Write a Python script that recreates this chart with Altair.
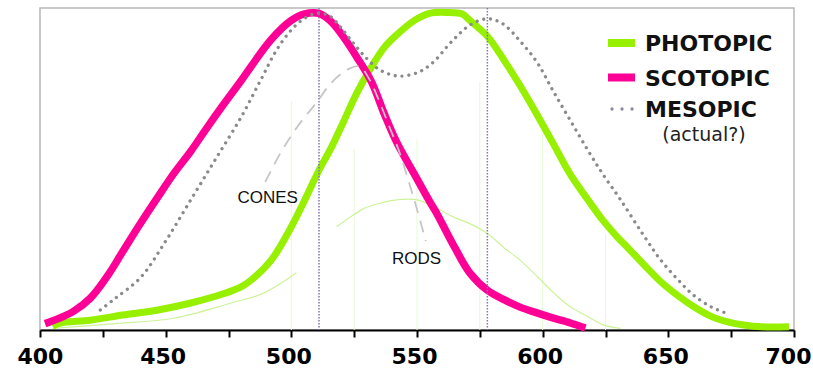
import altair as alt
import pandas as pd

# ---------------- data ----------------
PHOT_NM = [405, 408, 420, 433, 447, 460, 473, 480, 484, 492, 500, 506, 511, 516, 521, 526,
           532, 537, 542, 549, 555, 562, 568, 571, 578, 585, 591, 598, 604, 611, 618, 624,
           630, 634, 640, 647, 654, 660, 667, 674, 680, 687, 698]
PHOT_V = [0.012, 0.022, 0.031, 0.047, 0.063, 0.085, 0.114, 0.136, 0.157, 0.22, 0.325, 0.42,
          0.503, 0.576, 0.66, 0.745, 0.83, 0.89, 0.93, 0.975, 0.997, 1.0, 0.995, 0.975, 0.925,
          0.845, 0.77, 0.675, 0.59, 0.49, 0.41, 0.345, 0.29, 0.258, 0.208, 0.152, 0.107, 0.074,
          0.043, 0.025, 0.016, 0.01, 0.01]

SCOT_NM = [402, 407, 413, 420, 427, 433, 440, 447, 453, 460, 466, 473, 480, 484, 492, 500,
           505, 511, 516, 521, 526, 532, 537, 542, 549, 555, 558, 565, 571, 578, 585, 591,
           598, 604, 611, 617]
SCOT_V = [0.02, 0.035, 0.057, 0.10, 0.172, 0.248, 0.336, 0.42, 0.49, 0.563, 0.632, 0.71,
          0.785, 0.83, 0.915, 0.975, 0.995, 0.997, 0.97, 0.92, 0.86, 0.78, 0.68, 0.59, 0.49,
          0.405, 0.365, 0.26, 0.18, 0.125, 0.094, 0.072, 0.053, 0.038, 0.022, 0.006]

MESO_NM = [424, 430, 440, 450, 460, 470, 480, 488, 494, 500, 505, 510, 515, 520, 525, 530,
           535, 542, 550, 556, 564, 571, 578, 584, 591, 598, 604, 611, 618, 624, 631, 640,
           647, 654, 660, 667, 673]
MESO_V = [0.063, 0.10, 0.165, 0.28, 0.41, 0.54, 0.67, 0.79, 0.88, 0.945, 0.98, 0.997, 0.99,
          0.95, 0.90, 0.855, 0.82, 0.80, 0.81, 0.84, 0.91, 0.96, 0.98, 0.965, 0.91, 0.84, 0.755,
          0.66, 0.566, 0.49, 0.41, 0.30, 0.22, 0.157, 0.11, 0.073, 0.053]

CONE_NM = [489.6, 495.6, 502.4, 510.4, 515.5, 522.3, 527, 531, 535, 539, 543, 547, 550, 553.5]
CONE_V = [0.466, 0.556, 0.64, 0.72, 0.775, 0.82, 0.83, 0.79, 0.72, 0.64, 0.56, 0.46, 0.38, 0.28]

ROD_NM = [405, 430, 453, 476, 489, 502, 518, 523.5, 529, 535.5, 542, 550, 558, 564.5, 571,
          578, 584.5, 591, 598, 604.5, 611, 618, 624, 631]
ROD_V = [0.005, 0.02, 0.037, 0.085, 0.116, 0.18, 0.325, 0.356, 0.383, 0.40, 0.41, 0.41,
         0.383, 0.356, 0.335, 0.304, 0.26, 0.22, 0.167, 0.116, 0.073, 0.042, 0.016, 0.005]

GRID_NM = [500, 525, 550, 575, 600, 625]
GRID_TOP = [0.72, 0.57, 0.6, 0.78, 0.62, 0.3]

MARK_NM = [511, 578]

TICKS = list(range(400, 701, 25))

NOTES = ["CONES", "RODS"]
NOTE_NM = [490.6, 549.8]
NOTE_V = [0.416, 0.224]

LEGEND = ["PHOTOPIC", "SCOTOPIC", "MESOPIC"]
LEGEND_SUB = "(actual?)"

GREEN = "#96f000"
PINK = "#ff0096"

# ---------------- scales ----------------
XS = alt.Scale(domain=[400, 700], nice=False, zero=False)
YS = alt.Scale(domain=[0, 1.014], nice=False, zero=False)

x_axis = alt.Axis(
    values=TICKS, format="d",
    labelExpr="datum.value % 50 == 0 ? datum.label : ''",
    labelFont="DejaVu Sans", labelFontWeight="bold", labelFontSize=22, labelColor="#000",
    domainColor="#000", domainWidth=2, tickColor="#000", tickWidth=2, tickSize=7,
    labelPadding=9, grid=False, title=None, labelFlush=True, labelFlushOffset=20,
    labelOverlap=False, labelOffset=-3,
)
X = alt.X("nm:Q", scale=XS, axis=x_axis)


def df(nm, v):
    return pd.DataFrame({"nm": nm, "v": v})


grid = alt.Chart(pd.DataFrame({"nm": GRID_NM, "top": GRID_TOP, "zero": [0] * len(GRID_NM)})).mark_rule(
    color="#e9f8d4", strokeWidth=1
).encode(
    x=X,
    y=alt.Y("top:Q", scale=YS, axis=None),
    y2="zero:Q",
)

rod_df = df(ROD_NM, ROD_V)
rod_df["seg"] = (rod_df["nm"] > 505).astype(int)
rods = alt.Chart(rod_df).mark_line(
    color="#cdf39a", strokeWidth=1.2, interpolate="catmull-rom"
).encode(
    x=X,
    y=alt.Y("v:Q", scale=YS, axis=None),
    detail="seg:N",
)


def curve(nm, v, **kw):
    return alt.Chart(df(nm, v)).mark_line(interpolate="catmull-rom", **kw).encode(
        x=X,
        y=alt.Y("v:Q", scale=YS, axis=None),
    )


phot = curve(PHOT_NM, PHOT_V, color=GREEN, strokeWidth=7)
scot = curve(SCOT_NM, SCOT_V, color=PINK, strokeWidth=7.5)
cones = curve(CONE_NM, CONE_V, color="#c6c6c6", strokeWidth=1.8, strokeDash=[12, 8])
meso = curve(MESO_NM, MESO_V, color="#8a8a8a", strokeWidth=3.3, strokeDash=[0.01, 6.8],
             strokeCap="round")

marks = alt.Chart(pd.DataFrame({"nm": MARK_NM})).mark_rule(
    color="#8474b4", strokeWidth=1.5, strokeDash=[1.5, 1.5]
).encode(
    x=X,
    y=alt.value(0),
    y2=alt.value(322),
)

notes = alt.Chart(pd.DataFrame({"t": NOTES, "nm": NOTE_NM, "v": NOTE_V})).mark_text(
    font="Liberation Sans", fontSize=17, color="#111", align="center", baseline="middle"
).encode(
    x=X,
    y=alt.Y("v:Q", scale=YS, axis=None),
    text="t:N",
)

one = pd.DataFrame({"a": [0]})
leg_layers = []
sw_y = [35, 69.5, 101]
sw_col = [GREEN, PINK, "#8a8aa0"]
for i, lab in enumerate(LEGEND):
    if i < 2:
        sw = alt.Chart(one).mark_rule(color=sw_col[i], strokeWidth=8).encode(
            x=alt.value(568), x2=alt.value(595), y=alt.value(sw_y[i]))
    else:
        sw = alt.Chart(one).mark_rule(color=sw_col[i], strokeWidth=3.3,
                                      strokeDash=[0.01, 10], strokeCap="round").encode(
            x=alt.value(572), x2=alt.value(594), y=alt.value(sw_y[i]))
    tx = alt.Chart(one).mark_text(
        text=lab, font="DejaVu Sans", fontWeight="bold", fontSize=22, color="#111",
        align="left", baseline="middle"
    ).encode(x=alt.value(605), y=alt.value(sw_y[i] + 1))
    leg_layers += [sw, tx]

sub = alt.Chart(one).mark_text(
    text=LEGEND_SUB, font="DejaVu Sans", fontSize=19, color="#222",
    align="center", baseline="middle"
).encode(x=alt.value(664), y=alt.value(127))
leg_layers.append(sub)

chart = alt.layer(grid, rods, phot, scot, cones, meso, marks, notes, *leg_layers).properties(
    width=754, height=322,
    padding={"left": 40, "top": 8, "right": 19, "bottom": 38},
    autosize=alt.AutoSizeParams(type="none"),
    background="white",
).configure_view(stroke="#b8b8b8", strokeWidth=1.5)

chart.save("out.html", embed_options={"renderer": "svg", "actions": False})
